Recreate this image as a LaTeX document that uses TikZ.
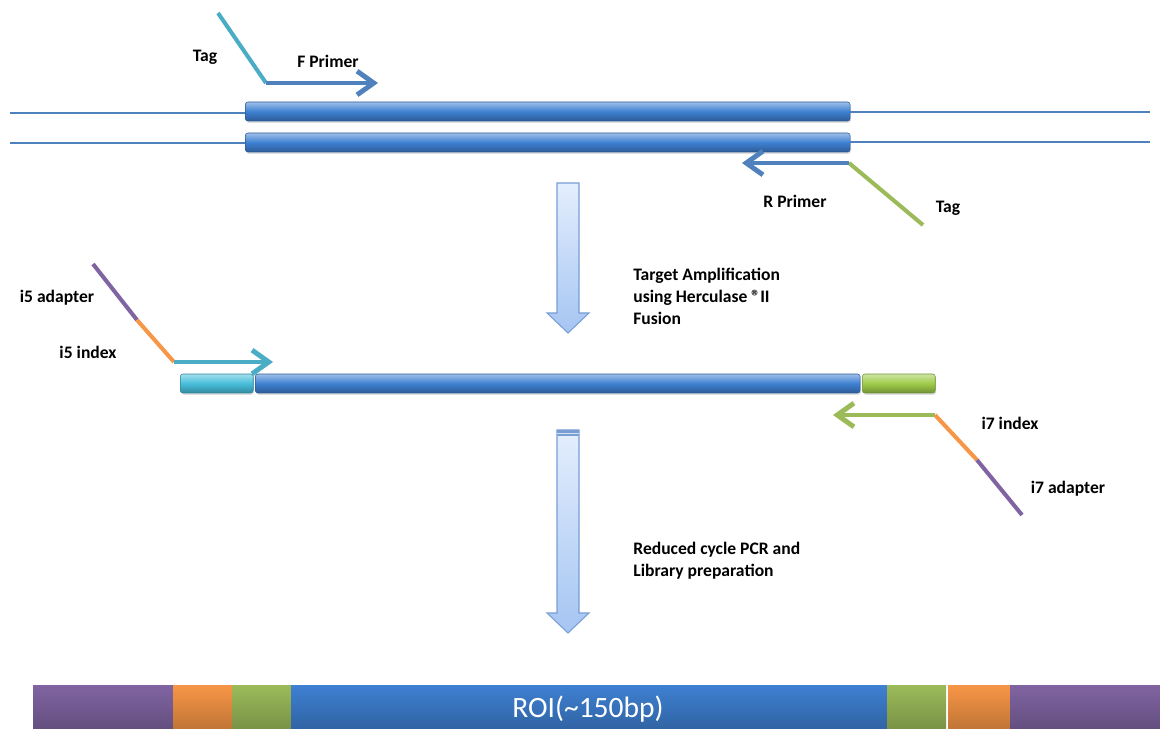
\documentclass[tikz,border=0pt]{standalone}
\usepackage{fontspec}
\setmainfont{Carlito}
\usetikzlibrary{arrows.meta,shadows}

\definecolor{dnablue}{RGB}{79,129,189}
\definecolor{barblue}{RGB}{62,128,210}
\definecolor{barcyan}{RGB}{70,190,218}
\definecolor{bargreen}{RGB}{158,203,72}
\definecolor{tagcyan}{RGB}{75,172,198}
\definecolor{taggreen}{RGB}{155,187,89}
\definecolor{idxorange}{RGB}{247,150,70}
\definecolor{adppurple}{RGB}{128,100,162}
\definecolor{flowtop}{RGB}{228,238,253}
\definecolor{flowbot}{RGB}{165,197,242}
\definecolor{flowedge}{RGB}{120,158,212}

\tikzset{
  lbl/.style={font=\bfseries\fontsize{10}{12.5}\selectfont, inner sep=0pt},
  strand/.style={draw=#1!70!black, line width=0.3pt, rounded corners=1.5pt,
    top color=#1!50!white, bottom color=#1!72!black, middle color=#1,
    inner sep=0pt, minimum height=0.38cm, anchor=west,
    drop shadow={shadow xshift=0.5pt, shadow yshift=-1pt, opacity=0.25}},
  primer/.style={line width=2.8pt, -{Straight Barb[length=9.5pt,width=13.5pt]}},
  tagline/.style={line width=2.3pt},
  flowarr/.style={draw=flowedge, line width=0.6pt, top color=flowtop, bottom color=flowbot},
  segm/.style={top color=#1, bottom color=#1!78!black}
}

% block arrow between two steps: top, start of head, tip
\newcommand{\flowarrow}[3]{%
  \path[flowarr] (557,#1) -- (579,#1) -- (579,#2) -- (589,#2) -- (568,#3)
    -- (547,#2) -- (557,#2) -- cycle;}

\begin{document}
\begin{tikzpicture}[>=stealth,x=0.02cm,y=-0.02cm]
\useasboundingbox (0,0) rectangle (1160,729);

% template strands
\node[strand=barblue, minimum width=12.1cm] (topA) at (245,111.5) {};
\node[strand=barblue, minimum width=12.1cm] (topB) at (245,142.5) {};
\coordinate (lA) at (10,113);
\coordinate (rA) at (1150,112);
\coordinate (lB) at (10,143);
\coordinate (rB) at (1150,142);
\draw[dnablue, line width=0.6pt] (lA) -- (topA.west |- lA);
\draw[dnablue, line width=0.6pt] (topA.east |- rA) -- (rA);
\draw[dnablue, line width=0.6pt] (lB) -- (topB.west |- lB);
\draw[dnablue, line width=0.6pt] (topB.east |- rB) -- (rB);

% forward primer with tag
\coordinate (ftag) at (218,13);
\coordinate (fjoin) at (266,83);
\coordinate (ftip) at (378,83);
\draw[tagline, tagcyan] (ftag) -- (fjoin);
\draw[primer, dnablue] (fjoin) -- (ftip);
\node[lbl] (ftaglbl) at (205,57) {Tag};
\node[lbl] (fprim) at (328,61) {F Primer};

% reverse primer with tag
\coordinate (rjoin) at (849,163);
\coordinate (rtip) at (742,163);
\coordinate (rtag) at (923,225);
\draw[tagline, taggreen] (rjoin) -- (rtag);
\draw[primer, dnablue] (rjoin) -- (rtip);
\node[lbl] (rprim) at (795,201) {R Primer};
\node[lbl] (rtaglbl) at (948,208) {Tag};

% step 1
\flowarrow{183}{313}{333}
\node[lbl, align=left, anchor=north west] (step1) at (633,268)
  {Target Amplification\\using Herculase ®II\\Fusion};

% amplicon
\node[strand=barcyan, minimum width=1.46cm] (ampL) at (180,383.5) {};
\node[strand=barblue, minimum width=12.1cm] (ampM) at (255,383.5) {};
\node[strand=bargreen, minimum width=1.46cm] (ampR) at (862,383.5) {};

% i5 side
\coordinate (i5top) at (93,264);
\coordinate (i5mid) at (137,320);
\coordinate (i5join) at (174,362);
\coordinate (i5tip) at (273,362);
\draw[tagline, adppurple] (i5top) -- (i5mid);
\draw[tagline, idxorange] (i5mid) -- (i5join);
\draw[primer, tagcyan] (i5join) -- (i5tip);
\node[lbl] (i5adp) at (57,298) {i5 adapter};
\node[lbl] (i5idx) at (88,352) {i5 index};

% i7 side
\coordinate (i7join) at (935,415);
\coordinate (i7tip) at (833,415);
\coordinate (i7mid) at (977,460);
\coordinate (i7end) at (1022,515);
\draw[tagline, idxorange] (i7join) -- (i7mid);
\draw[tagline, adppurple] (i7mid) -- (i7end);
\draw[primer, taggreen] (i7join) -- (i7tip);
\node[lbl] (i7idx) at (1010,423) {i7 index};
\node[lbl] (i7adp) at (1068,489) {i7 adapter};

% step 2
\flowarrow{430}{613}{633}
\fill[flowedge] (557,430) rectangle (579,436);
\draw[white!70!flowedge, line width=0.6pt] (557,433.5) -- (579,433.5);
\node[lbl, align=left, anchor=north west] (step2) at (633,542)
  {Reduced cycle PCR and\\Library preparation};

% final library
\foreach \xa/\xb/\c in {33/173/adppurple, 173/232/idxorange, 232/291/taggreen,
  291/887/barblue, 887/946/taggreen, 948/1010/idxorange, 1010/1160/adppurple}
  \fill[segm=\c] (\xa,685) rectangle (\xb,729);
\node[text=white, font=\fontsize{16.8}{18}\selectfont, inner sep=0pt] (roi) at (588,709) {ROI(\textasciitilde150bp)};

\end{tikzpicture}
\end{document}
